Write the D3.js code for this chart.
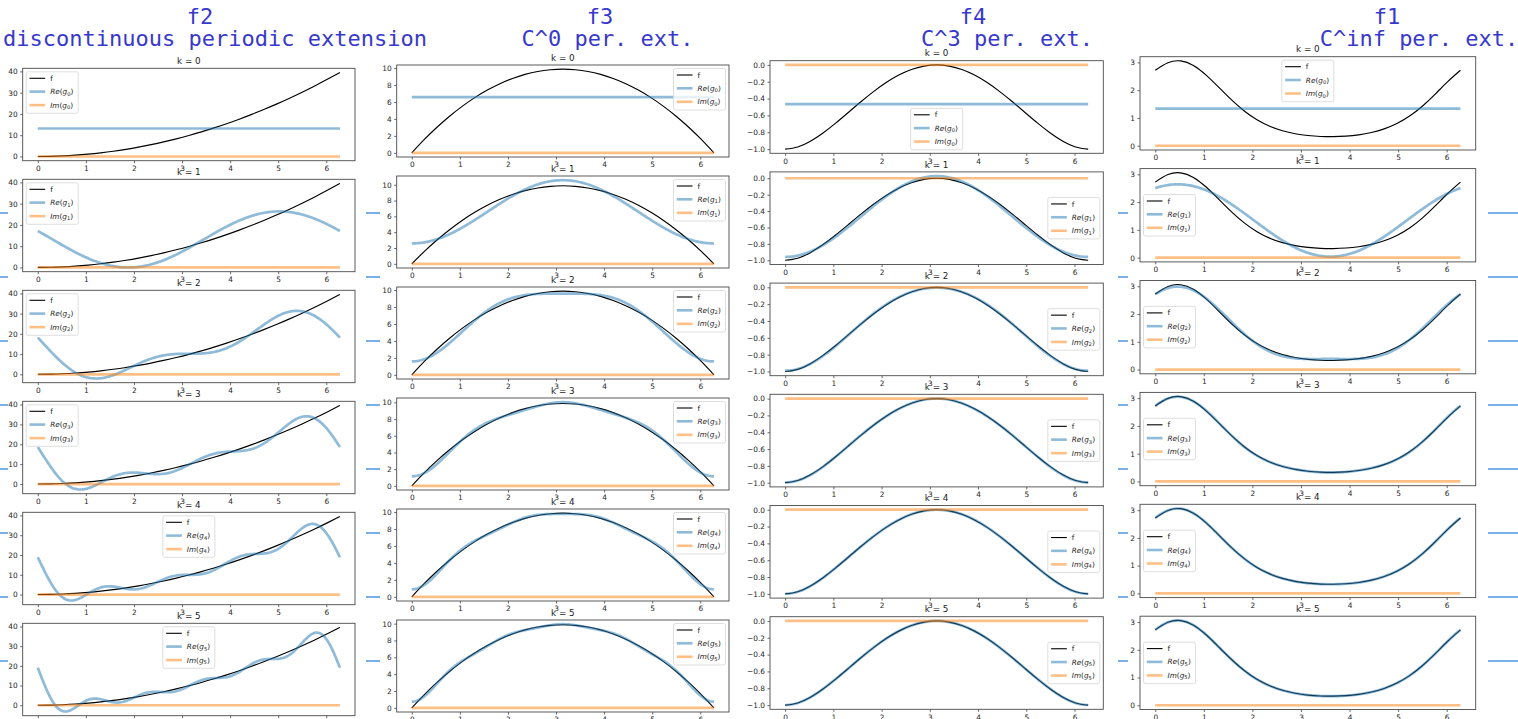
<!DOCTYPE html>
<html><head><meta charset="utf-8">
<script src="https://cdn.jsdelivr.net/npm/d3@7"></script>
<style>body{margin:0;background:#fff;overflow:hidden}svg{display:block}</style>
</head><body>
<svg id="chart" width="1518" height="719"></svg>
<script>
// ---------------- DATA ----------------
const functionNames = ["f2", "f3", "f4", "f1"];
const subtitles = ["discontinuous periodic extension", "C^0 per. ext.", "C^3 per. ext.", "C^inf per. ext."];
const kValues = [0, 1, 2, 3, 4, 5];
const xTicks = [0, 1, 2, 3, 4, 5, 6];
const yTicksF2 = [0, 10, 20, 30, 40];
const yTicksF3 = [0, 2, 4, 6, 8, 10];
const yTicksF4 = [-1.0, -0.8, -0.6, -0.4, -0.2, 0.0];
const yTicksF1 = [0, 1, 2, 3];

// sample positions of f on [0, 2π]
const xSamples = [0, 0.2618, 0.5236, 0.7854, 1.0472, 1.3090, 1.5708, 1.8326, 2.0944, 2.3562, 2.6180, 2.8798,
  3.1416, 3.4034, 3.6652, 3.9270, 4.1888, 4.4506, 4.7124, 4.9742, 5.2360, 5.4978, 5.7596, 6.0214, 6.2832];
const f2Values = [0, 0.0685, 0.2742, 0.6169, 1.0966, 1.7135, 2.4674, 3.3584, 4.3865, 5.5517, 6.8539, 8.2932,
  9.8696, 11.5831, 13.4336, 15.4213, 17.5460, 19.8077, 22.2066, 24.7425, 27.4156, 30.2257, 33.1728, 36.2571, 39.4784];
const f3Values = [0, 1.5764, 3.0157, 4.3180, 5.4831, 6.5112, 7.4022, 8.1561, 8.7730, 9.2528, 9.5954, 9.8011,
  9.8696, 9.8011, 9.5954, 9.2528, 8.7730, 8.1561, 7.4022, 6.5112, 5.4831, 4.3180, 3.0157, 1.5764, 0];
const f4Values = [-1, -0.9745, -0.9066, -0.8086, -0.6914, -0.5648, -0.4375, -0.3171, -0.2099, -0.1211, -0.0548, -0.0138,
  0, -0.0138, -0.0548, -0.1211, -0.2099, -0.3171, -0.4375, -0.5648, -0.6914, -0.8086, -0.9066, -0.9745, -1];
const f1Values = [2.7183, 2.9902, 3.0527, 2.8883, 2.5422, 2.0997, 1.6487, 1.2513, 0.9352, 0.7022, 0.5401, 0.4332,
  0.3679, 0.3344, 0.3276, 0.3462, 0.3934, 0.4763, 0.6065, 0.7992, 1.0693, 1.4241, 1.8516, 2.3083, 2.7183];

// Fourier coefficients (index n = 0..5): g_k(x) = a0 + Σ_{n≤k} (a_n cos nx + b_n sin nx)
const f2CosCoef = [13.159, 4.0, 1.0, 0.4444, 0.25, 0.16];
const f2SinCoef = [0, -12.566, -6.283, -4.189, -3.142, -2.513];
const f3CosCoef = [6.580, -4.0, -1.0, -0.4444, -0.25, -0.16];
const f3SinCoef = [0, 0, 0, 0, 0, 0];
const f4CosCoef = [-0.4667, -0.49277, -0.030798, -0.0060835, -0.0019249, -0.00078843];
const f4SinCoef = [0, 0, 0, 0, 0, 0];
const f1CosCoef = [1.33778, 1.16460, 0.207816, 0.011256, -0.0024247, -0.00065070];
const f1SinCoef = [0, 0.58230, 0.277088, 0.061907, 0.0083134, 0.00070207];
// imaginary part of g_k for each k
const imagPart = [0, 0, 0, 0, 0, 0];

// ---------------- LAYOUT ----------------
const colLeft = [22.7, 396.7, 770, 1140];
const colWidth = [332.3, 332.3, 333.3, 335.7];
const colTop = [68.3, 65, 60.7, 56.7];
const rowStep = [111, 111, 111.2, 111.9];
const axH = [92.4, 92, 92.6, 93.3];
const nameX = [200, 600, 973, 1387];
const subX = [215, 607.5, 1007, 1419];
const legendLoc = [
  ["upper left", "upper left", "upper left", "upper left", "upper center", "upper center"],
  ["upper right", "upper right", "upper right", "upper right", "upper right", "upper right"],
  ["lower center", "center right", "center right", "center right", "center right", "center right"],
  ["upper center", "center left", "center left", "center left", "center left", "center left"]
];

const columns = [
  {f: f2Values, a: f2CosCoef, b: f2SinCoef, ticks: yTicksF2, fmt: d3.format("d")},
  {f: f3Values, a: f3CosCoef, b: f3SinCoef, ticks: yTicksF3, fmt: d3.format("d")},
  {f: f4Values, a: f4CosCoef, b: f4SinCoef, ticks: yTicksF4, fmt: d3.format(".1f")},
  {f: f1Values, a: f1CosCoef, b: f1SinCoef, ticks: yTicksF1, fmt: d3.format("d")}
];

const BLUE = "#1f77b4", ORANGE = "#ff7f0e";
const FONT = "DejaVu Sans, sans-serif";
const svg = d3.select("#chart");

// stray blue dashes visible between the figure images
const dashY = [213, 277, 341, 405, 469, 533, 597, 661];
const dashX = [[0, 8], [366, 380], [1118, 1128], [1488, 1518]];
dashX.forEach(([x0, x1]) => dashY.forEach(y => {
  svg.append("line").attr("x1", x0).attr("x2", x1).attr("y1", y).attr("y2", y)
    .attr("stroke", "#3f8ee0").attr("stroke-width", 1.4);
}));

// column titles
functionNames.forEach((n, i) => {
  svg.append("text").attr("x", nameX[i]).attr("y", 23.5).attr("text-anchor", "middle")
    .attr("font-family", "DejaVu Sans Mono, monospace").attr("font-size", 22).attr("fill", "#3838cc").text(n);
  svg.append("text").attr("x", subX[i]).attr("y", 46).attr("text-anchor", "middle")
    .attr("font-family", "DejaVu Sans Mono, monospace").attr("font-size", 22).attr("fill", "#3838cc")
    .style("white-space", "pre").text(subtitles[i]);
});

const N = 240;
const xGrid = d3.range(N + 1).map(i => i * 2 * Math.PI / N);

function gk(col, k, x) {
  let s = col.a[0];
  for (let n = 1; n <= k; n++) s += col.a[n] * Math.cos(n * x) + col.b[n] * Math.sin(n * x);
  return s;
}

function drawLegend(g, loc, k, W, H) {
  const lw = 52, lh = 41.5, pad = 3.5;
  let lx, ly;
  if (loc === "upper left") { lx = pad; ly = pad; }
  else if (loc === "upper center") { lx = (W - lw) / 2; ly = pad; }
  else if (loc === "upper right") { lx = W - lw - pad; ly = pad; }
  else if (loc === "lower center") { lx = (W - lw) / 2; ly = H - lh - pad; }
  else if (loc === "center right") { lx = W - lw - pad; ly = (H - lh) / 2; }
  else { lx = pad; ly = (H - lh) / 2; }
  const L = g.append("g").attr("transform", `translate(${lx},${ly})`);
  L.append("rect").attr("width", lw).attr("height", lh).attr("rx", 2)
    .attr("fill", "rgba(255,255,255,0.8)").attr("stroke", "#d6d6d6").attr("stroke-width", 0.8);
  const rows = [6.5, 19.8, 33.3];
  const styles = [
    {c: "#000", w: 1.1, o: 1},
    {c: BLUE, w: 2.6, o: 0.5},
    {c: ORANGE, w: 2.6, o: 0.5}
  ];
  rows.forEach((ry, i) => {
    L.append("line").attr("x1", 3.3).attr("x2", 19).attr("y1", ry).attr("y2", ry)
      .attr("stroke", styles[i].c).attr("stroke-width", styles[i].w).attr("stroke-opacity", styles[i].o);
    const t = L.append("text").attr("x", 24).attr("y", ry + 2.6)
      .attr("font-family", FONT).attr("font-size", 7.3).attr("fill", "#222");
    if (i === 0) { t.text("f"); }
    else {
      t.append("tspan").attr("font-style", "italic").text(i === 1 ? "Re" : "Im");
      t.append("tspan").text("(");
      t.append("tspan").attr("font-style", "italic").text("g");
      t.append("tspan").attr("font-size", 5.2).attr("dy", 1.5).text(String(k));
      t.append("tspan").attr("dy", -1.5).text(")");
    }
  });
}

columns.forEach((col, c) => {
  kValues.forEach((k, r) => {
    const W = colWidth[c], H = axH[c];
    const top = colTop[c] + r * rowStep[c];
    const g = svg.append("g").attr("transform", `translate(${colLeft[c]},${top})`);

    const gVals = xGrid.map(x => gk(col, k, x));
    const allY = col.f.concat(gVals, [imagPart[k]]);
    const lo = d3.min(allY), hi = d3.max(allY), m = (hi - lo) * 0.05;
    const x0 = 0, x1 = xSamples[xSamples.length - 1], mx = (x1 - x0) * 0.05;
    const x = d3.scaleLinear().domain([x0 - mx, x1 + mx]).range([0, W]);
    const y = d3.scaleLinear().domain([lo - m, hi + m]).range([H, 0]);

    g.append("rect").attr("width", W).attr("height", H).attr("fill", "#fff");

    // f
    g.append("path").datum(col.f.map((v, i) => [xSamples[i], v]))
      .attr("d", d3.line().x(d => x(d[0])).y(d => y(d[1])).curve(d3.curveNatural))
      .attr("fill", "none").attr("stroke", "#000").attr("stroke-width", 1.15);
    // Re(g_k)
    g.append("path").datum(xGrid.map((xx, i) => [xx, gVals[i]]))
      .attr("d", d3.line().x(d => x(d[0])).y(d => y(d[1])))
      .attr("fill", "none").attr("stroke", BLUE).attr("stroke-width", 2.7).attr("stroke-opacity", 0.5);
    // Im(g_k)
    g.append("path").datum([[x0, imagPart[k]], [x1, imagPart[k]]])
      .attr("d", d3.line().x(d => x(d[0])).y(d => y(d[1])))
      .attr("fill", "none").attr("stroke", ORANGE).attr("stroke-width", 2.7).attr("stroke-opacity", 0.5);

    // axes
    const xa = g.append("g").attr("transform", `translate(0,${H})`)
      .call(d3.axisBottom(x).tickValues(xTicks).tickSize(2.5).tickPadding(2.5).tickFormat(d3.format("d")));
    const ya = g.append("g")
      .call(d3.axisLeft(y).tickValues(col.ticks).tickSize(2.5).tickPadding(2.5).tickFormat(col.fmt));
    [xa, ya].forEach(a => {
      a.select(".domain").remove();
      a.selectAll("line").attr("stroke", "#444").attr("stroke-width", 0.8);
      a.selectAll("text").attr("font-family", FONT).attr("font-size", 7.4).attr("fill", "#262626");
    });

    g.append("rect").attr("width", W).attr("height", H).attr("fill", "none")
      .attr("stroke", "#4a4a4a").attr("stroke-width", 0.9);

    drawLegend(g, legendLoc[c][r], k, W, H);

    g.append("text").attr("x", W / 2).attr("y", -4.3).attr("text-anchor", "middle")
      .attr("font-family", FONT).attr("font-size", 8.8).attr("fill", "#222").text(`k = ${k}`);
  });
});
</script>
</body></html>
